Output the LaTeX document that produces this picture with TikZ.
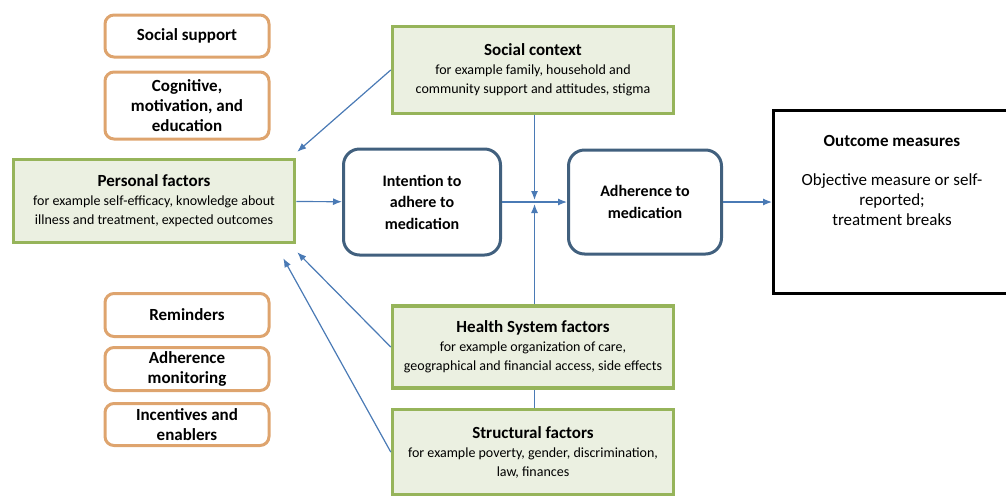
\documentclass[tikz,border=0pt]{standalone}
\usepackage{fontspec}
\setmainfont{Carlito}
\usetikzlibrary{positioning, arrows.meta, calc}
\tikzset{>={Latex[length=9pt,width=7pt]}}
\definecolor{factorline}{HTML}{96B45A}
\definecolor{factorfill}{HTML}{EBF0E1}
\definecolor{toolline}{HTML}{DEA46E}
\definecolor{stageline}{HTML}{41607E}
\definecolor{linkblue}{HTML}{4A7AB5}
\newcommand{\heading}[1]{{\bfseries\fontsize{17}{20}\selectfont #1}}
\tikzset{
  factor/.style={rectangle, draw=factorline, fill=factorfill, line width=3.5pt, minimum width=281pt, align=center, font=\fontsize{14}{19}\selectfont},
  tool/.style={rectangle, rounded corners=9pt, draw=toolline, line width=3pt, minimum width=164pt, align=center, font=\bfseries\fontsize{17}{20}\selectfont},
  stage/.style={rectangle, rounded corners=16pt, draw=stageline, line width=3pt, align=center, font=\bfseries\fontsize{16}{21.5}\selectfont},
  link/.style={->, draw=linkblue, line width=1.2pt}
}

\begin{document}
\begin{tikzpicture}[x=1pt, y=-1pt]
\useasboundingbox (0,0) rectangle (1006,499);

% Interventions, upper group
\node[tool, minimum height=42pt] (ss) at (187,36) {Social support};
\node[tool, minimum height=67pt, below=12pt of ss] (cog) {Cognitive,\\ motivation, and\\ education};

% Personal factors
\node[factor, minimum height=83pt] (pers) at (154,201)
  {\heading{Personal factors}\\ for example self-efficacy, knowledge about\\ illness and treatment, expected outcomes};

% Interventions, lower group
\node[tool, minimum height=43pt] (rem) at (187,315) {Reminders};
\node[tool, minimum height=43pt, below=8pt of rem] (mon) {Adherence\\ monitoring};
\node[tool, minimum height=42pt, below=10pt of mon] (inc) {Incentives and\\ enablers};

% Context and system factors
\node[factor, minimum height=87pt] (soc) at (533,70)
  {\heading{Social context}\\ for example family, household and\\ community support and attitudes, stigma};
\node[factor, minimum height=82pt] (hs) at (533,347)
  {\heading{Health System factors}\\ for example organization of care,\\ geographical and financial access, side effects};
\node[factor, minimum height=85pt, below=18pt of hs] (str)
  {\heading{Structural factors}\\ for example poverty, gender, discrimination,\\ law, finances};

% Intention and adherence
\node[stage, minimum width=157pt, minimum height=106pt] (int) at (422,202) {Intention to\\ adhere to\\ medication};
\node[stage, minimum width=153pt, minimum height=104pt, right=65pt of int] (adh) {Adherence to\\ medication};

% Outcome measures
\node[draw=black, line width=3pt, minimum width=237pt, minimum height=183pt] (out) at (892,202) {};
\node[below=23pt of out.north, align=center, font=\fontsize{17}{20}\selectfont] (outtxt)
  {\heading{Outcome measures}\\[19pt] Objective measure or self-\\ reported;\\ treatment breaks};

% Connectors
\coordinate (mid) at ($(int.east)!0.5!(adh.west)$);
\coordinate (pa) at ([shift={(1,-6)}]pers.north east);
\coordinate (pb) at ([shift={(1,8)}]pers.south east);
\coordinate (pc) at ([shift={(-13,14)}]pers.south east);

\draw[link] (pers) -- (int);
\draw[link] (int) -- (adh);
\draw[link] (adh) -- (out);
\draw[link] (soc.south -| mid) -- ([yshift=2pt]mid);
\draw[link] (hs.north -| mid) -- ([yshift=-2pt]mid);
\draw[draw=linkblue, line width=1.2pt] (hs.south -| mid) -- (str.north -| mid);
\draw[link] (soc.west) -- (pa);
\draw[link] (hs.west) -- (pb);
\draw[link] (str.west) -- (pc);

\end{tikzpicture}
\end{document}
